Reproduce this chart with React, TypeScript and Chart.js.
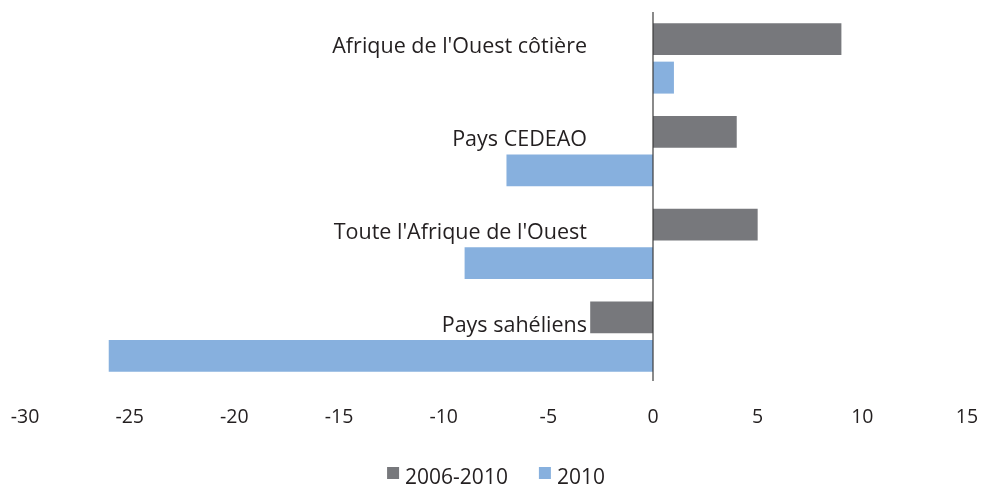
import React, { useEffect, useRef } from "react";
import { Chart, registerables } from "chart.js";

Chart.register(...registerables);

const categories = [
  "Afrique de l'Ouest côtière",
  "Pays CEDEAO",
  "Toute l'Afrique de l'Ouest",
  "Pays sahéliens",
];
const values2006to2010 = [9, 4, 5, -3];
const values2010 = [1, -7, -9, -26];
const seriesLabels = ["2006-2010", "2010"];
const xMin = -30;
const xMax = 15;
const xStep = 5;

const DARK = "#77787c";
const BLUE = "#87b0de";
const TEXT = "#231f20";
const FONT = "'Open Sans', sans-serif";

const categoryLabelPlugin = {
  id: "categoryLabels",
  afterDatasetsDraw(chart: any) {
    const { ctx, scales } = chart;
    const x0 = scales.x.getPixelForValue(0);
    // zero line
    ctx.save();
    ctx.strokeStyle = "#3c3c3c";
    ctx.lineWidth = 1.2;
    ctx.beginPath();
    ctx.moveTo(x0, chart.chartArea.top);
    ctx.lineTo(x0, chart.chartArea.bottom - 2);
    ctx.stroke();
    ctx.restore();

    ctx.save();
    ctx.font = `21.5px ${FONT}`;
    ctx.fillStyle = TEXT;
    ctx.textAlign = "right";
    ctx.textBaseline = "alphabetic";
    chart.data.labels.forEach((lab: string, i: number) => {
      const y = scales.y.getPixelForValue(i);
      ctx.fillText(lab, x0 - 66, y - 5);
    });
    ctx.restore();
  },
  afterDraw(chart: any) {
    const { ctx, chartArea } = chart;
    ctx.save();
    ctx.font = `21px ${FONT}`;
    ctx.textBaseline = "alphabetic";
    ctx.textAlign = "left";
    const items = chart.data.datasets.map((d: any) => ({
      text: d.label,
      color: d.backgroundColor,
      w: ctx.measureText(d.label).width,
    }));
    const box = 12;
    const gap = 6;
    const itemGap = 31;
    let total = 0;
    items.forEach((it: any, i: number) => {
      total += box + gap + it.w + (i < items.length - 1 ? itemGap : 0);
    });
    let x = (chartArea.left + chartArea.right) / 2 - total / 2;
    const baseY = chart.height - 1;
    items.forEach((it: any) => {
      ctx.fillStyle = it.color;
      ctx.fillRect(x, baseY - 17, box, box);
      x += box + gap;
      ctx.fillStyle = TEXT;
      ctx.fillText(it.text, x, baseY);
      x += it.w + itemGap;
    });
    ctx.restore();
  },
};

export default function App() {
  const ref = useRef<HTMLCanvasElement>(null);
  useEffect(() => {
    document.body.style.margin = "0";
    const canvas = ref.current!;
    const chart = new Chart(canvas, {
      type: "bar",
      data: {
        labels: categories,
        datasets: [
          {
            label: seriesLabels[0],
            data: values2006to2010,
            backgroundColor: DARK,
            borderWidth: 0,
            categoryPercentage: 0.83,
            barPercentage: 0.83,
          },
          {
            label: seriesLabels[1],
            data: values2010,
            backgroundColor: BLUE,
            borderWidth: 0,
            categoryPercentage: 0.83,
            barPercentage: 0.83,
          },
        ],
      },
      options: {
        indexAxis: "y",
        responsive: false,
        animation: false,
        layout: { padding: { left: 25, right: 14, top: 12, bottom: 53.6 } },
        plugins: {
          legend: { display: false },
          tooltip: { enabled: false },
        },
        scales: {
          x: {
            type: "linear",
            min: xMin,
            max: xMax,
            grid: { display: false, drawTicks: true, tickLength: 21 },
            border: { display: false },
            ticks: {
              stepSize: xStep,
              color: TEXT,
              padding: 2,
              font: { family: FONT, size: 19.5 },
              maxRotation: 0,
            },
          },
          y: {
            type: "category",
            display: false,
            grid: { display: false },
          },
        },
      },
      plugins: [categoryLabelPlugin],
    });
    return () => chart.destroy();
  }, []);
  return (
    <div style={{ width: 981, height: 485 }}>
      <canvas ref={ref} width={981} height={485} />
    </div>
  );
}
